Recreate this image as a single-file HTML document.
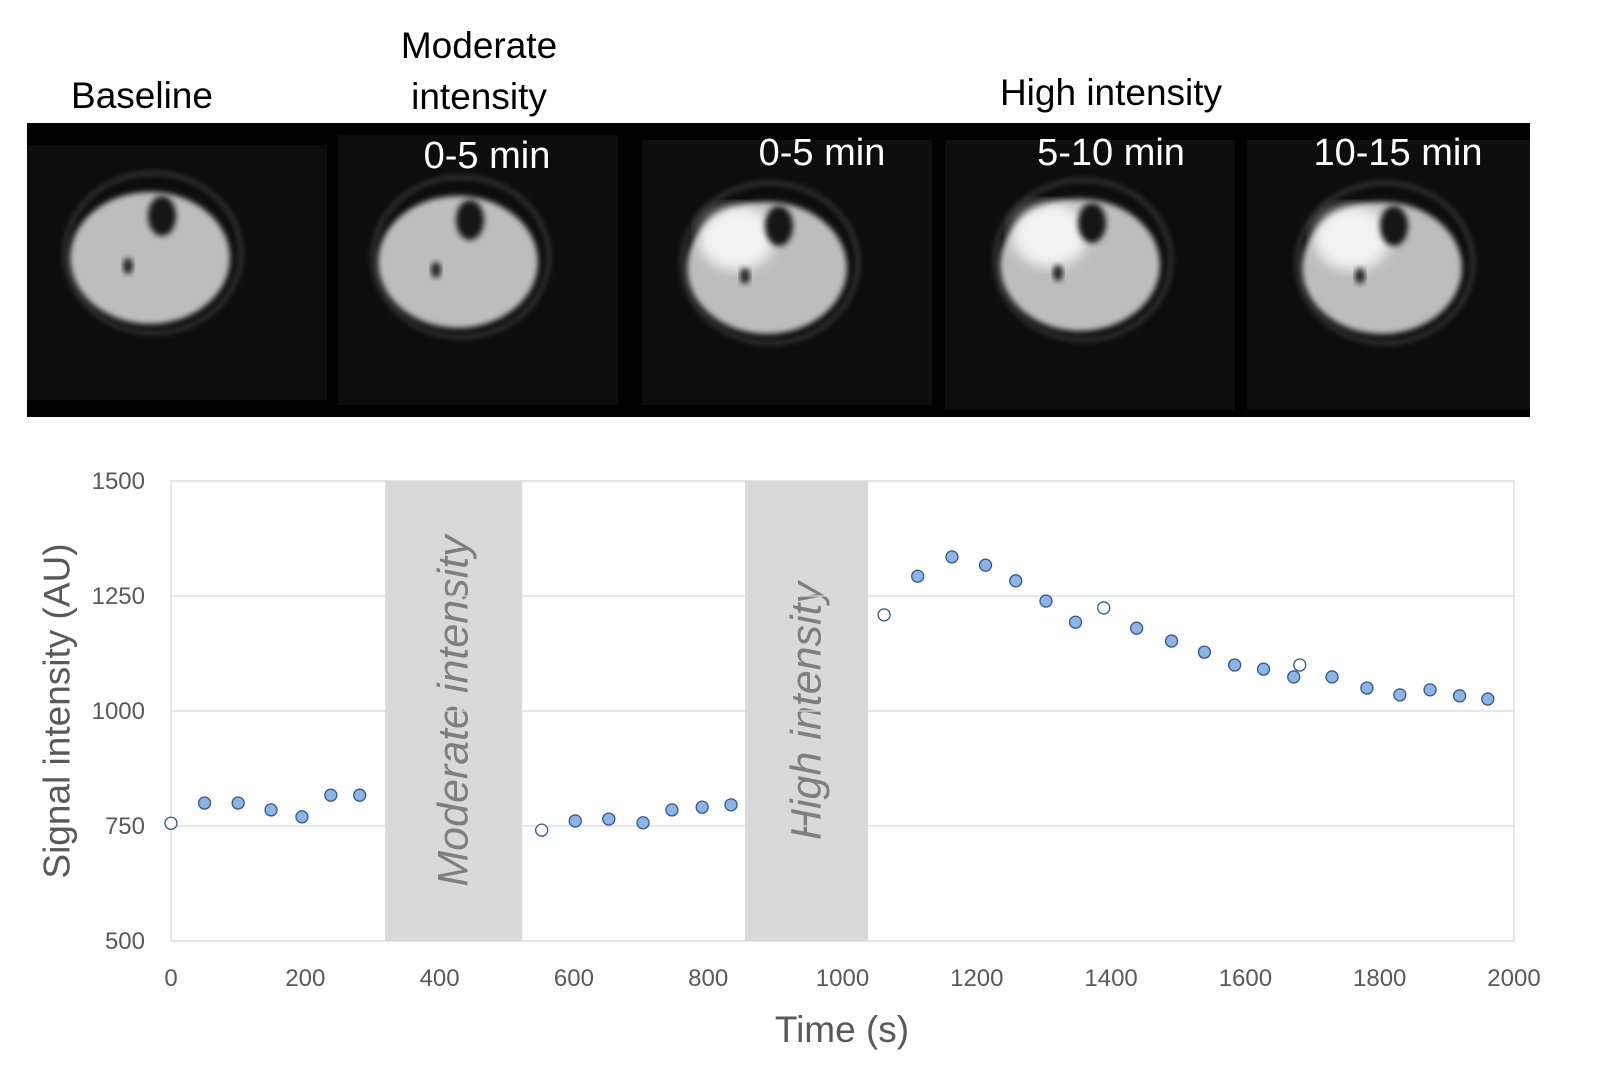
<!DOCTYPE html>
<html><head><meta charset="utf-8"><style>
body{margin:0;background:#fff;}
svg{display:block;font-family:"Liberation Sans",sans-serif;}
</style></head><body>
<svg id="fig" width="1600" height="1086" viewBox="0 0 1600 1086">
<defs>
<filter id="bl" x="-20%" y="-20%" width="140%" height="140%"><feGaussianBlur stdDeviation="3"/></filter>
<filter id="bl2"><feGaussianBlur stdDeviation="6"/></filter>
</defs>
<g font-size="37" fill="#000" text-anchor="middle">
<text x="142" y="108">Baseline</text>
<text x="479" y="58">Moderate</text>
<text x="479" y="109">intensity</text>
<text x="1111" y="105">High intensity</text>
</g>
<rect x="27" y="123" width="1503" height="294" fill="#000"/>
<g id="mri"></g>
<g font-size="38" fill="#fff" text-anchor="middle">
<text x="487" y="168">0-5 min</text>
<text x="822" y="165">0-5 min</text>
<text x="1111" y="165">5-10 min</text>
<text x="1398" y="165">10-15 min</text>
</g>
<g id="chart"></g>
</svg>
<script>
const categories=["baseline","moderate","high"];
const xVals=[0,50,100,149,195,238,281, 552,602,652,703,746,791,834, 1062,1112,1163,1213,1258,1303,1347,1389,1438,1490,1539,1584,1627,1672,1681,1729,1781,1830,1875,1919,1961];
const yVals=[756,800,800,785,770,817,817, 741,761,765,757,785,791,796, 1209,1293,1335,1317,1283,1239,1193,1224,1180,1152,1128,1100,1091,1074,1100,1074,1050,1035,1046,1033,1026];
const openFlags=[1,0,0,0,0,0,0, 1,0,0,0,0,0,0, 1,0,0,0,0,0,0,1,0,0,0,0,0,0,1,0,0,0,0,0,0];
const bandStarts=[319,855];
const bandEnds=[523,1038];
const bandLabels=["Moderate intensity","High intensity"];
const yTicks=[500,750,1000,1250,1500];
const xTicks=[0,200,400,600,800,1000,1200,1400,1600,1800,2000];
const NS="http://www.w3.org/2000/svg";
const X0=171,X1=1514,Y0=941,Y1=481;
const sx=v=>X0+(v-0)/(2000)*(X1-X0);
const sy=v=>Y0-(v-500)/(1000)*(Y0-Y1);
function mk(tag,attrs,parent){const e=document.createElementNS(NS,tag);for(const k in attrs)e.setAttribute(k,attrs[k]);parent.appendChild(e);return e;}
const ch=document.getElementById('chart');
for(let i=0;i<bandStarts.length;i++){
 const r=mk('rect',{x:sx(bandStarts[i]),y:Y1,width:sx(bandEnds[i])-sx(bandStarts[i]),height:Y0-Y1,fill:'#d9d9d9'},ch);
 
 
 const cx=(sx(bandStarts[i])+sx(bandEnds[i]))/2,cy=(Y0+Y1)/2;
 const t=mk('text',{x:cx,y:cy,transform:`rotate(-90 ${cx} ${cy})`,'text-anchor':'middle','dominant-baseline':'central','font-size':43,'font-style':'italic',fill:'#7f7f7f'},ch);
 t.textContent=bandLabels[i];
 
 
}
yTicks.forEach(v=>{
 const l=mk('line',{x1:X0,x2:X1,y1:sy(v),y2:sy(v),stroke:'#d9d9d9','stroke-width':1.3},ch);
 
 
 const t=mk('text',{x:145,y:sy(v)+8,'text-anchor':'end','font-size':24,fill:'#595959'},ch);
 t.textContent=v;
 
 
});
const fr=mk('rect',{x:X0,y:Y1,width:X1-X0,height:Y0-Y1,fill:'none',stroke:'#d9d9d9','stroke-width':1.3},ch);


xTicks.forEach(v=>{
 const t=mk('text',{x:sx(v),y:986,'text-anchor':'middle','font-size':24,fill:'#595959'},ch);
 t.textContent=v;
 
 
});
const xt=mk('text',{x:842,y:1042,'text-anchor':'middle','font-size':37,fill:'#595959'},ch);
xt.textContent='Time (s)';


const yt=mk('text',{x:57,y:711,transform:'rotate(-90 57 711)','text-anchor':'middle','dominant-baseline':'central','font-size':37,fill:'#595959'},ch);
yt.textContent='Signal intensity (AU)';


xVals.forEach((v,i)=>{
 const c=mk('circle',{cx:sx(v),cy:sy(yVals[i]),r:6,fill:openFlags[i]?'#fff':'#8db4e2',stroke:'#2f5597','stroke-width':1.3},ch);
 
 
});
const mri=document.getElementById('mri');
const panels=[[27,145,300,255,150,258,false],[338,135,280,270,458,262,false],[642,140,290,265,767,268,true],[945,140,290,270,1080,265,true],[1247,140,283,270,1382,268,true]];
panels.forEach((p,i)=>{
 const g=mk('g',{},mri);
 
 
 mk('rect',{x:p[0],y:p[1],width:p[2],height:p[3],fill:'#0d0d0d'},g);
 const cx=p[4],cy=p[5];
 mk('ellipse',{cx:cx+3,cy:cy-5,rx:88,ry:80,fill:'none',stroke:'#444','stroke-width':3,filter:'url(#bl)'},g);
 mk('ellipse',{cx:cx,cy:cy,rx:80,ry:66,fill:'#bdbdbd',filter:'url(#bl)'},g);
 if(p[6]) mk('ellipse',{cx:cx-30,cy:cy-30,rx:38,ry:32,fill:'#f2f2f2',filter:'url(#bl2)'},g);
 mk('ellipse',{cx:cx+12,cy:cy-42,rx:14,ry:20,fill:'#151515',filter:'url(#bl)'},g);
 mk('ellipse',{cx:cx-22,cy:cy+8,rx:5,ry:8,fill:'#222',filter:'url(#bl)'},g);
});
</script>
</body></html>
